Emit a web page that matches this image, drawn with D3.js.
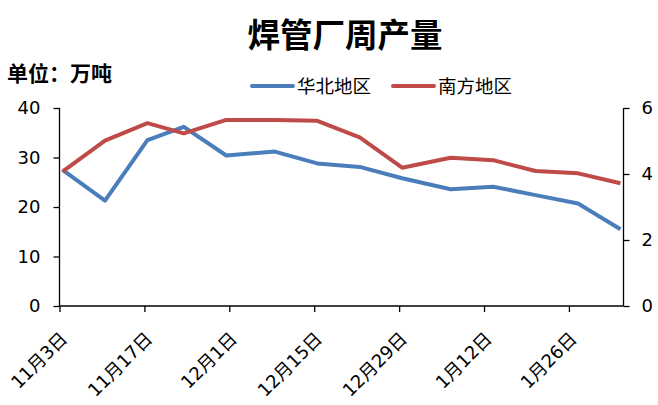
<!DOCTYPE html>
<html><head><meta charset="utf-8">
<script src="https://cdn.jsdelivr.net/npm/d3@7"></script>
<style>body{margin:0;background:#fff}svg{display:block}</style>
</head><body><svg id="c" width="658" height="405"></svg>
<script>
const dates = ["2014-11-03","2014-11-10","2014-11-17","2014-11-23","2014-11-30","2014-12-08","2014-12-15","2014-12-22","2014-12-29","2015-01-06","2015-01-13","2015-01-20","2015-01-27","2015-02-03"];
const northValues = [27.5,21.3,33.5,36.2,30.4,31.2,28.8,28.1,25.8,23.6,24.1,22.4,20.7,15.5];
const southValues = [4.07,5.01,5.54,5.23,5.64,5.64,5.61,5.11,4.19,4.49,4.42,4.09,4.02,3.72];
const seriesNames = ["华北地区","南方地区"];
const leftTicks = [0,10,20,30,40];
const rightTicks = [0,2,4,6];
const xTickDates = ["2014-11-03","2014-11-17","2014-12-01","2014-12-15","2014-12-29","2015-01-12","2015-01-26"];
const titleText = "焊管厂周产量";
const unitText = "单位：万吨";

const svg = d3.select("#c");
const font = "'Noto Sans CJK SC','DejaVu Sans',sans-serif";
const numFont = "'DejaVu Sans','Noto Sans CJK SC',sans-serif";
const parse = d3.utcParse("%Y-%m-%d");
const L = 59.5, R = 623.5, T = 108, B = 306;
const x = d3.scaleUtc().domain([parse("2014-11-03"), parse("2015-02-04")]).range([L, R]);
const yL = d3.scaleLinear().domain([0,40]).range([B,T]);
const yR = d3.scaleLinear().domain([0,6]).range([B,T]);
const mid = d => new Date(parse(d).getTime() + 12*3600*1000);

const blue = "#4A7EBB", red = "#BE4B48";

svg.append("text").attr("x",345).attr("y",47).attr("text-anchor","middle")
  .attr("font-family",font).attr("font-weight","bold").attr("font-size",32.5).text(titleText);
svg.append("text").attr("x",7).attr("y",81)
  .attr("font-family",font).attr("font-weight","bold").attr("font-size",21).text(unitText);

// legend
const leg = [{n:seriesNames[0],c:blue,x:252},{n:seriesNames[1],c:red,x:393}];
leg.forEach(l=>{
  svg.append("line").attr("x1",l.x).attr("x2",l.x+41).attr("y1",86).attr("y2",86)
    .attr("stroke",l.c).attr("stroke-width",4).attr("stroke-linecap","round");
  svg.append("text").attr("x",l.x+45).attr("y",93).attr("font-family",font)
    .attr("font-size",18.5).text(l.n);
});

// axes
const axL = svg.append("g").attr("transform",`translate(${L},0)`)
  .call(d3.axisLeft(yL).tickValues(leftTicks).tickSize(6).tickPadding(13).tickFormat(d3.format("d")));
const axR = svg.append("g").attr("transform",`translate(${R},0)`)
  .call(d3.axisRight(yR).tickValues(rightTicks).tickSize(6).tickPadding(12).tickFormat(d3.format("d")));
const axB = svg.append("g").attr("transform",`translate(0,${B})`)
  .call(d3.axisBottom(x).tickValues(xTickDates.map(parse)).tickSize(6)
    .tickFormat(d=>(d.getUTCMonth()+1)+"月"+d.getUTCDate()+"日"));
[axL,axR,axB].forEach(a=>{
  a.selectAll("path,line").attr("stroke","#000").attr("stroke-width",1.3);
  a.selectAll("text").attr("font-family",numFont).attr("font-size",18).attr("fill","#000");
});
axB.select("path.domain").attr("d",`M${L},0H${R}`);
axL.select("path.domain").attr("d",`M0,${T}V${B}`);
axR.select("path.domain").attr("d",`M0,${T}V${B}`);
axB.selectAll(".tick text").attr("font-size",18).attr("text-anchor","end")
  .attr("dy","0").attr("y",0)
  .attr("transform","translate(8.5,34) rotate(-45)");

const lineL = d3.line().x((d,i)=>x(mid(dates[i]))).y(d=>yL(d));
const lineR = d3.line().x((d,i)=>x(mid(dates[i]))).y(d=>yR(d));
svg.append("path").datum(northValues).attr("d",lineL).attr("fill","none")
  .attr("stroke",blue).attr("stroke-width",4).attr("stroke-linejoin","round");
svg.append("path").datum(southValues).attr("d",lineR).attr("fill","none")
  .attr("stroke",red).attr("stroke-width",4).attr("stroke-linejoin","round");
</script></body></html>
